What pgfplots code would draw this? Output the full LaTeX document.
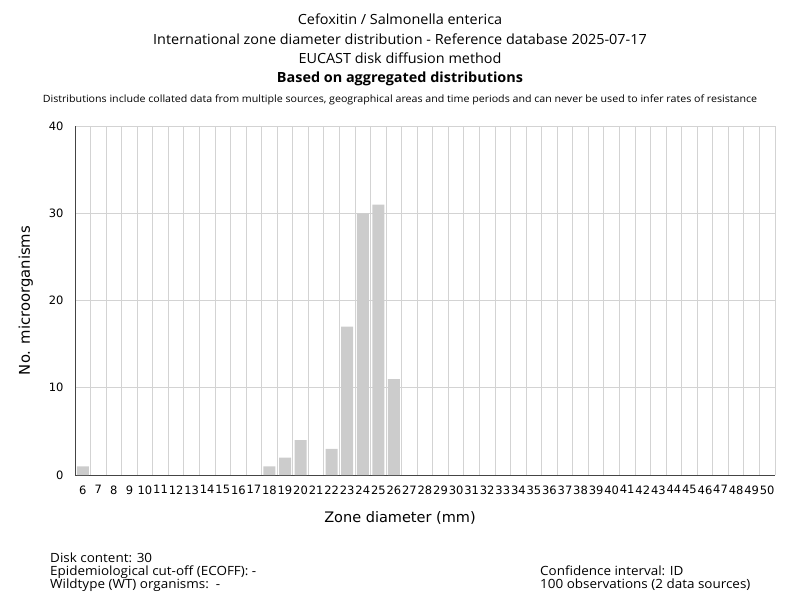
\documentclass[border=0pt]{standalone}
\usepackage{fontspec}
\setmainfont{Open Sans}
\newfontfamily\condfont[FakeStretch=1.03]{Open Sans}
\newfontfamily\smallfont[FakeStretch=1.06]{Open Sans}
\newfontfamily\dejavu{DejaVu Sans}
\usepackage{pgfplots}
\pgfplotsset{compat=1.18}
\definecolor{barc}{HTML}{CCCCCC}
\definecolor{gridc}{HTML}{D3D3D3}
\definecolor{axc}{HTML}{444444}
\begin{document}
\begin{tikzpicture}
\path (0pt,0pt) rectangle (800pt,-600pt);
\begin{axis}[
  at={(75pt,-475pt)}, anchor=south west,
  scale only axis, width=700pt, height=349pt,
  xmin=5.5, xmax=50.5, ymin=0, ymax=40,
  xtick={6,...,50},
  minor xtick={5.5,6.5,...,50.5},
  ytick={0,10,20,30,40},
  xmajorgrids=false, xminorgrids=true, ymajorgrids=true,
  grid style={gridc, line width=0.9pt},
  minor grid style={gridc, line width=0.9pt},
  major tick length=0pt, minor tick length=0pt,
  axis x line*=bottom, axis y line*=left,
  axis line style={axc, line width=0.9pt},
  x axis line style={-}, y axis line style={-},
  /pgf/number format/assume math mode=true,
  xticklabel style={font=\dejavu\fontsize{11.5}{13}\selectfont, yshift=-7pt},
  yticklabel style={font=\dejavu\fontsize{11.5}{13}\selectfont, xshift=-8pt},
  xlabel={Zone diameter (mm)},
  ylabel={No. microorganisms},
  xlabel style={font=\dejavu\fontsize{14.5}{16}\selectfont, at={(axis description cs:0.4643,0)}, anchor=north, yshift=-33pt},
  ylabel style={font=\dejavu\fontsize{14.8}{16}\selectfont, yshift=9pt},
  clip=false,
]
\addplot[ybar, bar width=12pt, fill=barc, draw=none] coordinates {
(6,1) (18,1) (19,2) (20,4) (22,3) (23,17) (24,30) (25,31) (26,11)
};
\end{axis}
\node[font=\condfont\fontsize{14}{16}\selectfont] at (400pt,-19pt) {Cefoxitin / Salmonella enterica};
\node[font=\condfont\fontsize{14}{16}\selectfont] at (400pt,-39pt) {International zone diameter distribution - Reference database 2025-07-17};
\node[font=\condfont\fontsize{14}{16}\selectfont] at (400pt,-58pt) {EUCAST disk diffusion method};
\node[font=\condfont\bfseries\fontsize{14}{16}\selectfont] at (400pt,-79pt) {Based on aggregated distributions};
\node[font=\smallfont\fontsize{10.05}{12}\selectfont] at (400pt,-100pt) {Distributions include collated data from multiple sources, geographical areas and time periods and can never be used to infer rates of resistance};
\node[font=\smallfont\fontsize{12.7}{13}\selectfont, anchor=north west, align=left, inner sep=0pt] at (50pt,-553pt) {Disk content: 30\\Epidemiological cut-off (ECOFF): -\\Wildtype (WT) organisms:~~-};
\node[font=\smallfont\fontsize{12.7}{13}\selectfont, anchor=north west, align=left, inner sep=0pt] at (540pt,-566pt) {Confidence interval: ID\\100 observations (2 data sources)};
\end{tikzpicture}
\end{document}
